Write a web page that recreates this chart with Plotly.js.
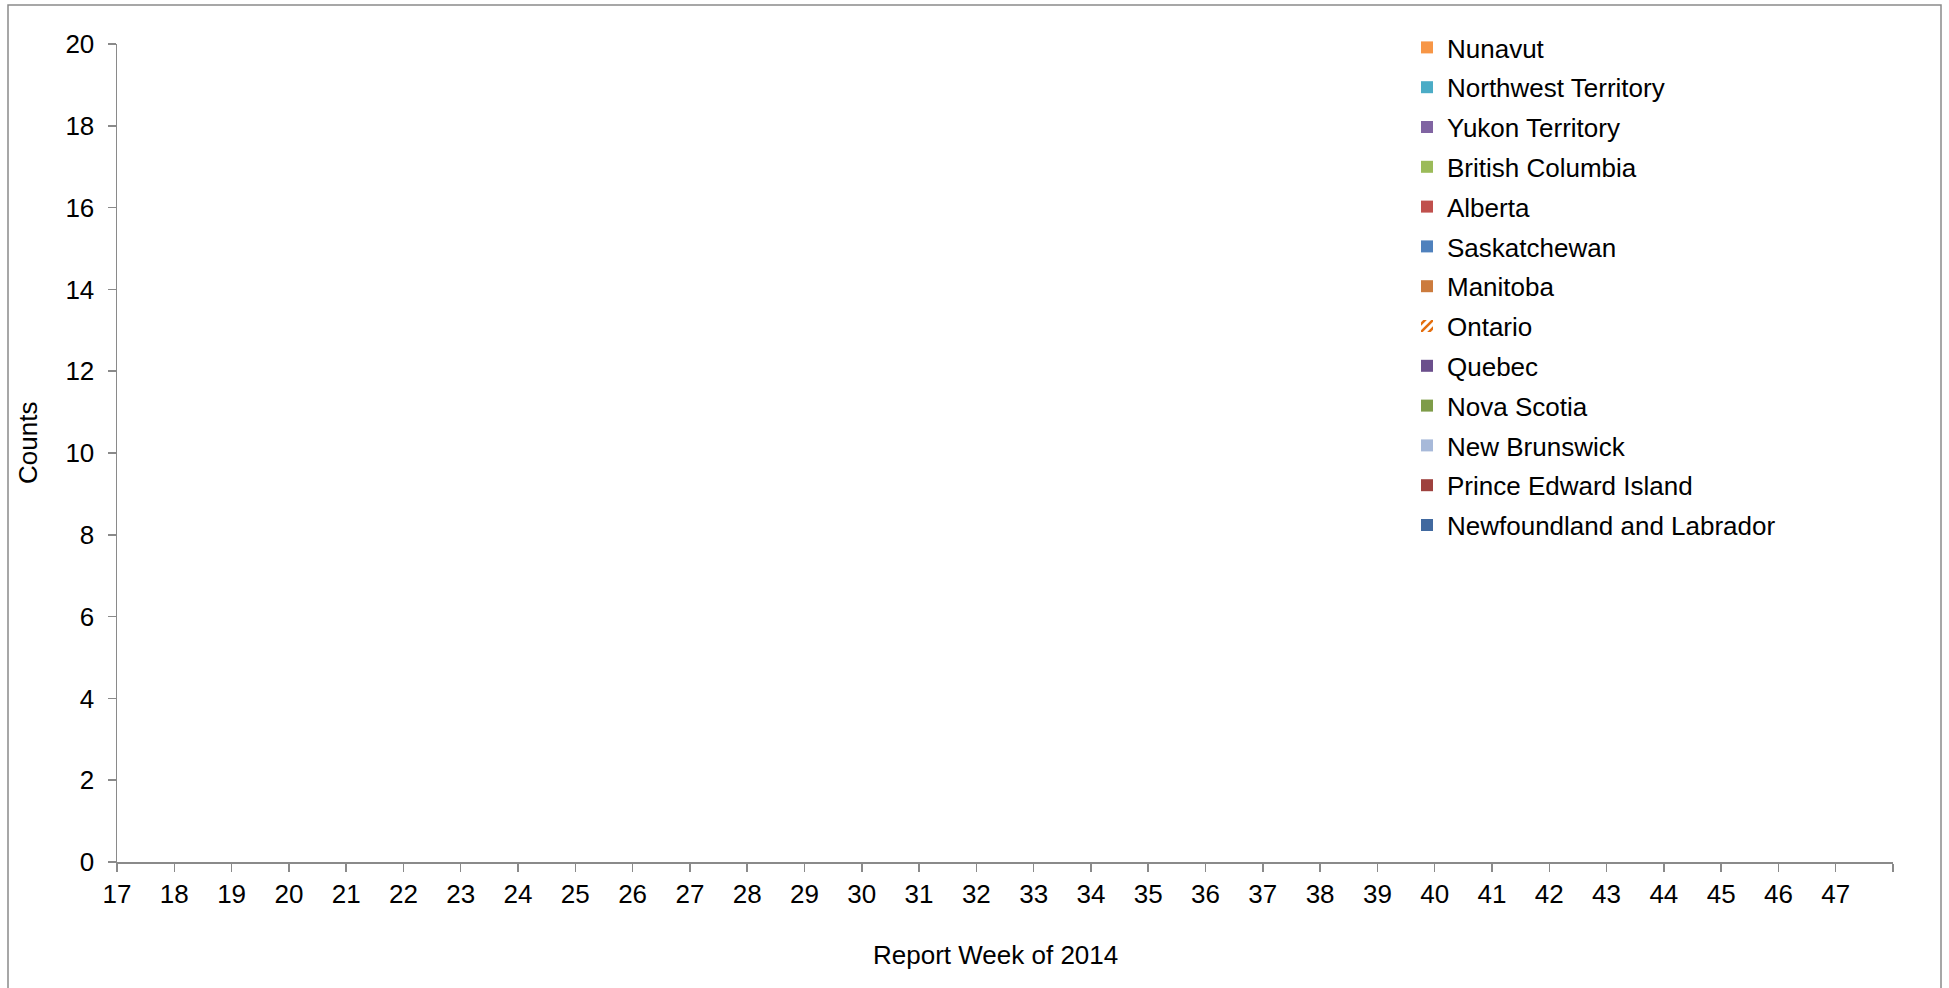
<!DOCTYPE html>
<html>
<head>
<meta charset="utf-8">
<script src="https://cdn.plot.ly/plotly-3.0.1.min.js"></script>
<style>html,body{margin:0;padding:0;background:#fff;}#chart{width:1949px;height:988px;}</style>
</head>
<body>
<div id="chart"></div>
<script>
// Report weeks (x categories)
const weeks = [17,18,19,20,21,22,23,24,25,26,27,28,29,30,31,32,33,34,35,36,37,38,39,40,41,42,43,44,45,46,47];

// Series values (counts per week) — all zero in the reference
const newfoundlandLabrador = [0,0,0,0,0,0,0,0,0,0,0,0,0,0,0,0,0,0,0,0,0,0,0,0,0,0,0,0,0,0,0];
const princeEdwardIsland   = [0,0,0,0,0,0,0,0,0,0,0,0,0,0,0,0,0,0,0,0,0,0,0,0,0,0,0,0,0,0,0];
const newBrunswick         = [0,0,0,0,0,0,0,0,0,0,0,0,0,0,0,0,0,0,0,0,0,0,0,0,0,0,0,0,0,0,0];
const novaScotia           = [0,0,0,0,0,0,0,0,0,0,0,0,0,0,0,0,0,0,0,0,0,0,0,0,0,0,0,0,0,0,0];
const quebec               = [0,0,0,0,0,0,0,0,0,0,0,0,0,0,0,0,0,0,0,0,0,0,0,0,0,0,0,0,0,0,0];
const ontario              = [0,0,0,0,0,0,0,0,0,0,0,0,0,0,0,0,0,0,0,0,0,0,0,0,0,0,0,0,0,0,0];
const manitoba             = [0,0,0,0,0,0,0,0,0,0,0,0,0,0,0,0,0,0,0,0,0,0,0,0,0,0,0,0,0,0,0];
const saskatchewan         = [0,0,0,0,0,0,0,0,0,0,0,0,0,0,0,0,0,0,0,0,0,0,0,0,0,0,0,0,0,0,0];
const alberta              = [0,0,0,0,0,0,0,0,0,0,0,0,0,0,0,0,0,0,0,0,0,0,0,0,0,0,0,0,0,0,0];
const britishColumbia      = [0,0,0,0,0,0,0,0,0,0,0,0,0,0,0,0,0,0,0,0,0,0,0,0,0,0,0,0,0,0,0];
const yukonTerritory       = [0,0,0,0,0,0,0,0,0,0,0,0,0,0,0,0,0,0,0,0,0,0,0,0,0,0,0,0,0,0,0];
const northwestTerritory   = [0,0,0,0,0,0,0,0,0,0,0,0,0,0,0,0,0,0,0,0,0,0,0,0,0,0,0,0,0,0,0];
const nunavut              = [0,0,0,0,0,0,0,0,0,0,0,0,0,0,0,0,0,0,0,0,0,0,0,0,0,0,0,0,0,0,0];

// Tick labels
const xTickVals = [17,18,19,20,21,22,23,24,25,26,27,28,29,30,31,32,33,34,35,36,37,38,39,40,41,42,43,44,45,46,47,48];
const xTickText = ["17","18","19","20","21","22","23","24","25","26","27","28","29","30","31","32","33","34","35","36","37","38","39","40","41","42","43","44","45","46","47",""];
const yTickVals = [0,2,4,6,8,10,12,14,16,18,20];

// Stack order bottom -> top; legend shows top -> bottom
const seriesDefs = [
  {name: "Newfoundland and Labrador", y: newfoundlandLabrador, color: "#41699F"},
  {name: "Prince Edward Island", y: princeEdwardIsland, color: "#9E413E"},
  {name: "New Brunswick", y: newBrunswick, color: "#A7B9D9"},
  {name: "Nova Scotia", y: novaScotia, color: "#7E9C48"},
  {name: "Quebec", y: quebec, color: "#6B4F8C"},
  {name: "Ontario", y: ontario, color: "#ffffff", pattern: true},
  {name: "Manitoba", y: manitoba, color: "#CC7B3D"},
  {name: "Saskatchewan", y: saskatchewan, color: "#4F81BD"},
  {name: "Alberta", y: alberta, color: "#C0504D"},
  {name: "British Columbia", y: britishColumbia, color: "#9BBB59"},
  {name: "Yukon Territory", y: yukonTerritory, color: "#8064A2"},
  {name: "Northwest Territory", y: northwestTerritory, color: "#4BACC6"},
  {name: "Nunavut", y: nunavut, color: "#F79646"}
];

const FONT = "Arial, 'Liberation Sans', sans-serif";
const FS = 26;

const traces = seriesDefs.map((s, i) => {
  const marker = {color: s.color, line: {width: 0}};
  if (s.pattern) {
    marker.pattern = {shape: "/", fgcolor: "#E46C0A", bgcolor: "#ffffff", solidity: 0.45, size: 7};
  }
  return {
    type: "bar",
    name: s.name,
    x: weeks,
    y: s.y,
    marker: marker,
    offset: 0.2,
    width: 0.6,
    legendgroup: "g" + i,
    legendrank: 1000 - i,
    hoverinfo: "x+y+name"
  };
});

const W = 1949, H = 988;
const L = 117, R = 1893, T = 44, B = 862;
const pw = R - L, ph = B - T;
const px = x => (x - L) / pw;
const py = y => (B - y) / ph;

const axisColor = "#8a8a8a";

const layout = {
  width: W, height: H,
  margin: {l: L, r: W - R, t: T, b: H - B, pad: 0},
  paper_bgcolor: "#ffffff",
  plot_bgcolor: "#ffffff",
  barmode: "stack",
  font: {family: FONT, color: "#000000", size: FS},
  showlegend: true,
  legend: {
    x: px(1407), y: py(24), xanchor: "left", yanchor: "top",
    traceorder: "grouped",
    tracegroupgap: 3,
    maxheight: 900,
    font: {family: FONT, size: FS, color: "#000"},
    bgcolor: "rgba(0,0,0,0)",
    borderwidth: 0
  },
  xaxis: {
    range: [17, 48],
    tickmode: "array",
    tickvals: xTickVals,
    ticktext: xTickText,
    showgrid: false,
    zeroline: false,
    showline: true,
    linecolor: axisColor,
    linewidth: 1.5,
    ticks: "outside",
    ticklen: 8,
    tickwidth: 1.5,
    tickcolor: axisColor,
    tickfont: {family: FONT, size: FS, color: "#000"},
    fixedrange: true
  },
  yaxis: {
    range: [0, 20],
    tickmode: "array",
    tickvals: yTickVals,
    showgrid: false,
    zeroline: false,
    showline: true,
    linecolor: axisColor,
    linewidth: 1.5,
    ticks: "outside",
    ticklen: 8,
    tickwidth: 1.5,
    tickcolor: axisColor,
    ticklabelstandoff: 8,
    tickfont: {family: FONT, size: FS, color: "#000"},
    fixedrange: true
  },
  shapes: [{
    type: "rect", xref: "paper", yref: "paper",
    x0: px(8), x1: px(1941), y0: py(5), y1: py(1010),
    line: {color: axisColor, width: 1.5},
    fillcolor: "rgba(0,0,0,0)",
    layer: "below"
  }],
  annotations: [
    {
      text: "Counts", xref: "paper", yref: "paper",
      x: px(28), y: py(443), xanchor: "center", yanchor: "middle",
      textangle: -90, showarrow: false,
      font: {family: FONT, size: FS, color: "#000"}
    },
    {
      text: "Report Week of 2014", xref: "paper", yref: "paper",
      x: px(995), y: py(955), xanchor: "center", yanchor: "middle",
      showarrow: false,
      font: {family: FONT, size: FS, color: "#000"}
    }
  ]
};

Plotly.newPlot("chart", traces, layout, {displayModeBar: false, staticPlot: true});
</script>
</body>
</html>
